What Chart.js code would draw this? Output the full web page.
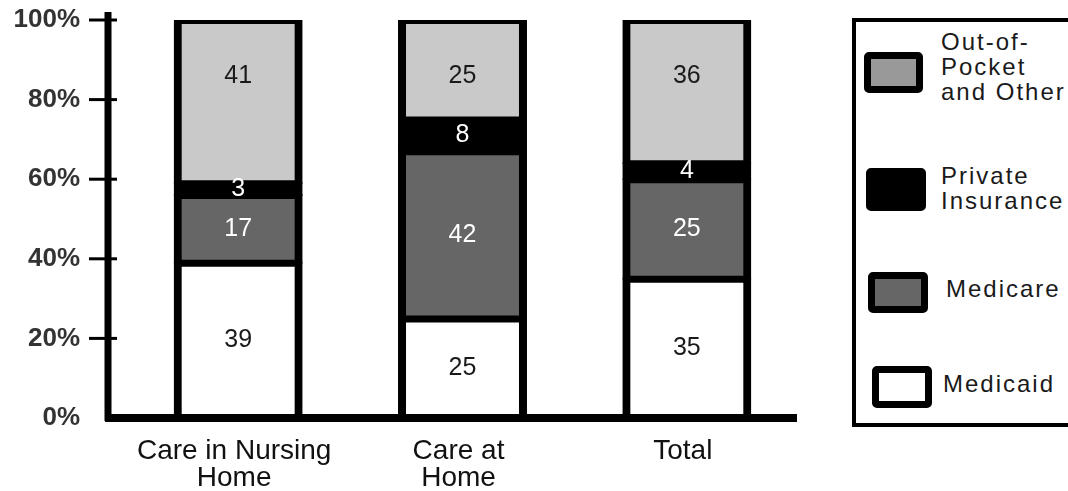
<!DOCTYPE html>
<html>
<head>
<meta charset="utf-8">
<script src="https://cdn.jsdelivr.net/npm/chart.js@4.4.0/dist/chart.umd.min.js"></script>
<style>
  html, body { margin: 0; overflow: hidden; }
  body { background: #fff; width: 1068px; height: 491px; position: relative;
         font-family: "Liberation Sans", Arial, sans-serif; }
  #wrap { position: absolute; left: 0; top: 0; width: 840px; height: 491px; }
  #legendBox { position: absolute; left: 852px; top: 18px; width: 230px; height: 401px;
               border: 4px solid #000; border-right: none; }
  .swatch { position: absolute; box-sizing: border-box; border: 7px solid #000; border-radius: 5px; }
  .lbl { position: absolute; font-size: 24px; line-height: 25px; letter-spacing: 2px; color: #1a1a1a; white-space: nowrap; }
  /* legend item placement, top to bottom */
  .s0 { left: 864px; top: 52px; width: 59px; height: 41px; }
  .l0 { left: 941px; top: 29px; }
  .s1 { left: 866px; top: 168px; width: 60px; height: 43px; }
  .l1 { left: 941px; top: 163px; }
  .s2 { left: 868px; top: 272px; width: 60px; height: 41px; }
  .l2 { left: 946px; top: 276px; }
  .s3 { left: 872px; top: 366px; width: 60px; height: 42px; }
  .l3 { left: 943px; top: 371px; }
</style>
</head>
<body>
<div id="wrap"><canvas id="chart"></canvas></div>
<div id="legendBox"></div>
<div id="legend"></div>
<script>
// data
const categories = [["Care in Nursing", "Home"], ["Care at", "Home"], "Total"];
const seriesNames = ["Medicaid", "Medicare", "Private Insurance", "Out-of-Pocket and Other"];
const legendLines = [["Medicaid"], ["Medicare"], ["Private", "Insurance"], ["Out-of-", "Pocket", "and Other"]];
const medicaid = [39, 25, 35];
const medicare = [17, 42, 25];
const privateIns = [3, 8, 4];
const outOfPocket = [41, 25, 36];
const yTicks = [0, 20, 40, 60, 80, 100];

// styles
const fills = ["#ffffff", "#666666", "#000000", "#c9c9c9"];
const legendFills = ["#ffffff", "#666666", "#000000", "#999999"];
const labelColors = ["#1a1a1a", "#ffffff", "#ffffff", "#1a1a1a"];
const values = [medicaid, medicare, privateIns, outOfPocket];

const datasets = values.map((v, i) => ({
    label: seriesNames[i],
    data: v,
    backgroundColor: fills[i],
    borderColor: "#000",
    borderWidth: { top: 5, bottom: 4, left: 8, right: 8 },
    borderSkipped: false,
    inflateAmount: 1,
    categoryPercentage: 1,
    barPercentage: 0.566
}));

// axes with ticks crossing the line
const axisLines = {
    id: "axisLines",
    afterDatasetsDraw(chart) {
        const { ctx, chartArea } = chart;
        const y = chart.scales.y;
        const ax = chartArea.left - 18;
        ctx.save();
        ctx.strokeStyle = "#000";
        ctx.lineWidth = 7;
        ctx.beginPath();
        ctx.moveTo(ax, 12);
        ctx.lineTo(ax, chartArea.bottom + 3);
        ctx.stroke();
        ctx.lineWidth = 8;
        ctx.beginPath();
        ctx.moveTo(ax - 3, chartArea.bottom);
        ctx.lineTo(chartArea.right - 2, chartArea.bottom);
        ctx.stroke();
        ctx.lineWidth = 3;
        yTicks.forEach(t => {
            if (t === 0) return;
            const py = y.getPixelForValue(t);
            ctx.beginPath();
            ctx.moveTo(ax - 19, py);
            ctx.lineTo(ax + 9, py);
            ctx.stroke();
        });
        ctx.restore();
    }
};

// numbers inside the segments
const segLabels = {
    id: "segLabels",
    afterDatasetsDraw(chart) {
        const { ctx } = chart;
        ctx.save();
        ctx.font = "25px 'Liberation Sans', Arial, sans-serif";
        ctx.textAlign = "center";
        ctx.textBaseline = "middle";
        chart.data.datasets.forEach((ds, i) => {
            const meta = chart.getDatasetMeta(i);
            meta.data.forEach((bar, j) => {
                const top = Math.min(bar.y, bar.base);
                const yPos = i === values.length - 1 ? top + 56 : (bar.y + bar.base) / 2;
                ctx.fillStyle = labelColors[i];
                ctx.fillText(String(ds.data[j]), bar.x, yPos);
            });
        });
        ctx.restore();
    }
};

new Chart(document.getElementById("chart"), {
    type: "bar",
    data: { labels: categories, datasets: datasets },
    options: {
        responsive: true,
        maintainAspectRatio: false,
        animation: false,
        layout: { padding: { top: 20, right: 41, left: 0, bottom: 0 } },
        plugins: {
            legend: { display: false },
            tooltip: { enabled: false }
        },
        scales: {
            x: {
                stacked: true,
                grid: { display: false, drawTicks: false },
                border: { display: false },
                ticks: {
                    color: "#111",
                    padding: 20,
                    labelOffset: -4,
                    font: { family: "'Liberation Sans', Arial, sans-serif", size: 28, lineHeight: 0.95 },
                    maxRotation: 0,
                    autoSkip: false
                },
                afterFit(scale) {
                    scale.height = 73;
                    scale.paddingLeft = 0;
                    scale.paddingRight = 0;
                }
            },
            y: {
                stacked: true,
                min: 0,
                max: 100,
                grid: { display: false, drawTicks: false },
                border: { display: false },
                afterBuildTicks(scale) { scale.ticks = yTicks.map(v => ({ value: v })); },
                ticks: {
                    color: "#333",
                    padding: 46,
                    font: { family: "'Liberation Sans', Arial, sans-serif", size: 26, weight: "bold" },
                    callback: v => v + "%"
                },
                afterFit(scale) {
                    scale.width = 126;
                    scale.paddingTop = 0;
                    scale.paddingBottom = 0;
                }
            }
        }
    },
    plugins: [axisLines, segLabels]
});

// legend, top item is the last series
const legend = document.getElementById("legend");
for (let k = 0; k < seriesNames.length; k++) {
    const i = seriesNames.length - 1 - k;
    const sw = document.createElement("div");
    sw.className = "swatch s" + k;
    sw.style.background = legendFills[i];
    legend.appendChild(sw);
    const lb = document.createElement("div");
    lb.className = "lbl l" + k;
    lb.innerHTML = legendLines[i].join("<br>");
    legend.appendChild(lb);
}
</script>
</body>
</html>
